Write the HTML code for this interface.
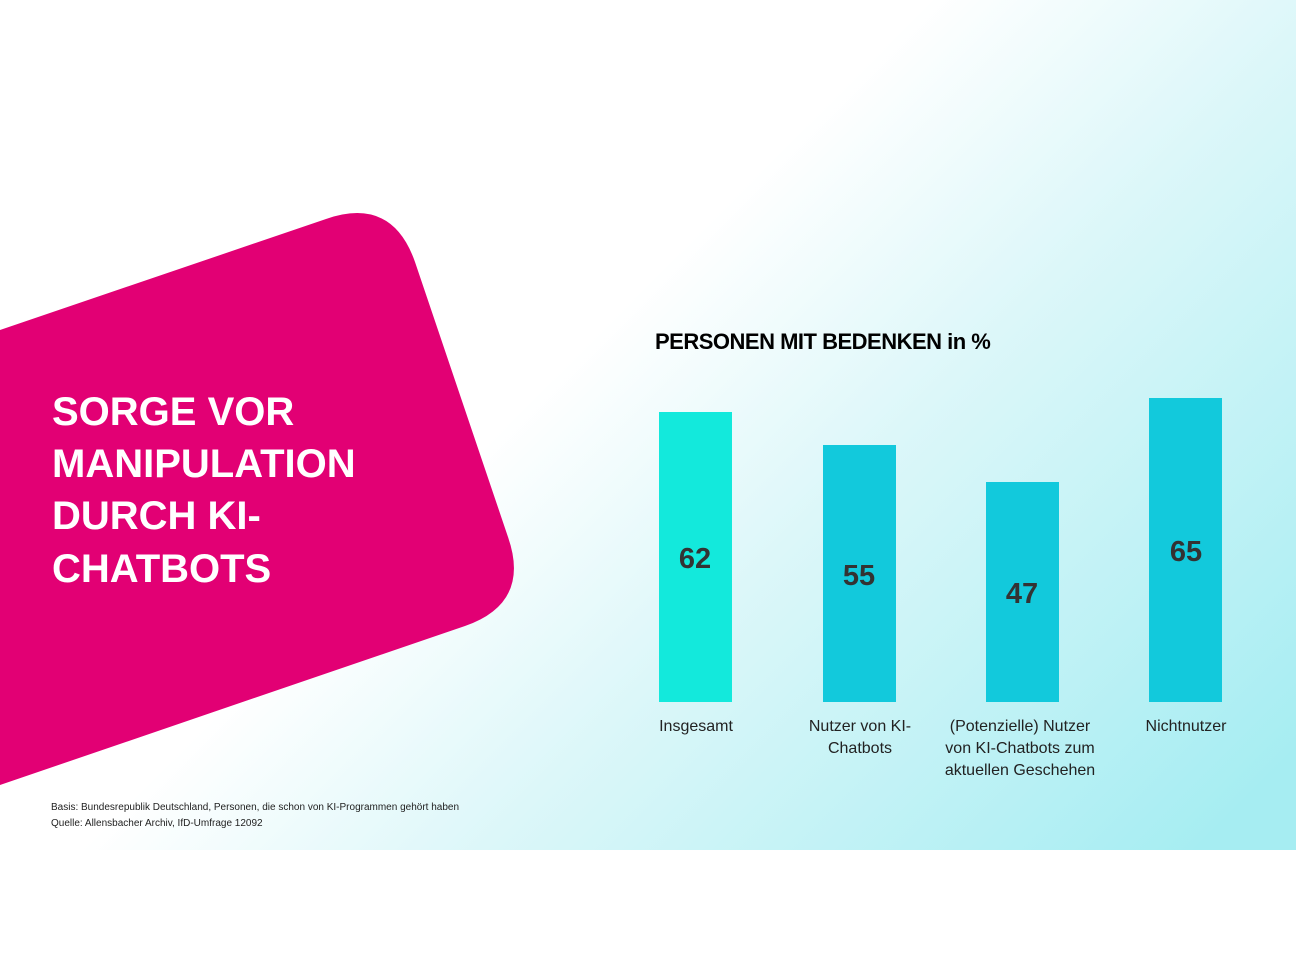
<!DOCTYPE html>
<html><head><meta charset="utf-8"><style>
html,body{margin:0;padding:0;background:#fff;}
svg{display:block;}
.n{font-family:"Liberation Sans Narrow","Liberation Sans",sans-serif;}
.s{font-family:"Liberation Sans",sans-serif;}
</style></head><body>
<svg width="1296" height="972" viewBox="0 0 1296 972" xmlns="http://www.w3.org/2000/svg">
<defs>
<linearGradient id="bg" x1="350" y1="100" x2="1150" y2="900" gradientUnits="userSpaceOnUse">
<stop offset="0.3" stop-color="#ffffff"/>
<stop offset="0.55" stop-color="#dcf7f9"/>
<stop offset="1" stop-color="#a6edf2"/>
</linearGradient>
</defs>
<rect x="0" y="0" width="1296" height="850" fill="url(#bg)"/>
<path d="M0,330 L326,219 Q392,196 415,262 L508,537 Q531,603 465,626 L0,785 Z" fill="#e20074"/>
<g class="s" fill="#fff" font-weight="bold" font-size="40">
<text x="52" y="425">SORGE VOR</text>
<text x="52" y="477">MANIPULATION</text>
<text x="52" y="529">DURCH KI-</text>
<text x="52" y="582">CHATBOTS</text>
</g>
<text class="n" x="655" y="349" font-size="22" font-weight="bold" fill="#000" letter-spacing="-0.5">PERSONEN MIT BEDENKEN in %</text>
<rect x="659" y="412" width="73" height="290" fill="#13e9dc"/>
<rect x="823" y="445" width="73" height="257" fill="#12c9dc"/>
<rect x="986" y="482" width="73" height="220" fill="#12c9dc"/>
<rect x="1149" y="398" width="73" height="304" fill="#12c9dc"/>
<g class="n" font-weight="bold" font-size="29" fill="#333" text-anchor="middle">
<text x="695" y="568">62</text>
<text x="859" y="585">55</text>
<text x="1022" y="603">47</text>
<text x="1186" y="561">65</text>
</g>
<g class="n" font-size="16" fill="#222" text-anchor="middle">
<text x="696" y="731">Insgesamt</text>
<text x="860" y="731">Nutzer von KI-</text>
<text x="860" y="753">Chatbots</text>
<text x="1020" y="731">(Potenzielle) Nutzer</text>
<text x="1020" y="753">von KI-Chatbots zum</text>
<text x="1020" y="775">aktuellen Geschehen</text>
<text x="1186" y="731">Nichtnutzer</text>
</g>
<g class="n" font-size="10" fill="#222">
<text x="51" y="810">Basis: Bundesrepublik Deutschland, Personen, die schon von KI-Programmen gehört haben</text>
<text x="51" y="826">Quelle: Allensbacher Archiv, IfD-Umfrage 12092</text>
</g>
</svg>
</body></html>
